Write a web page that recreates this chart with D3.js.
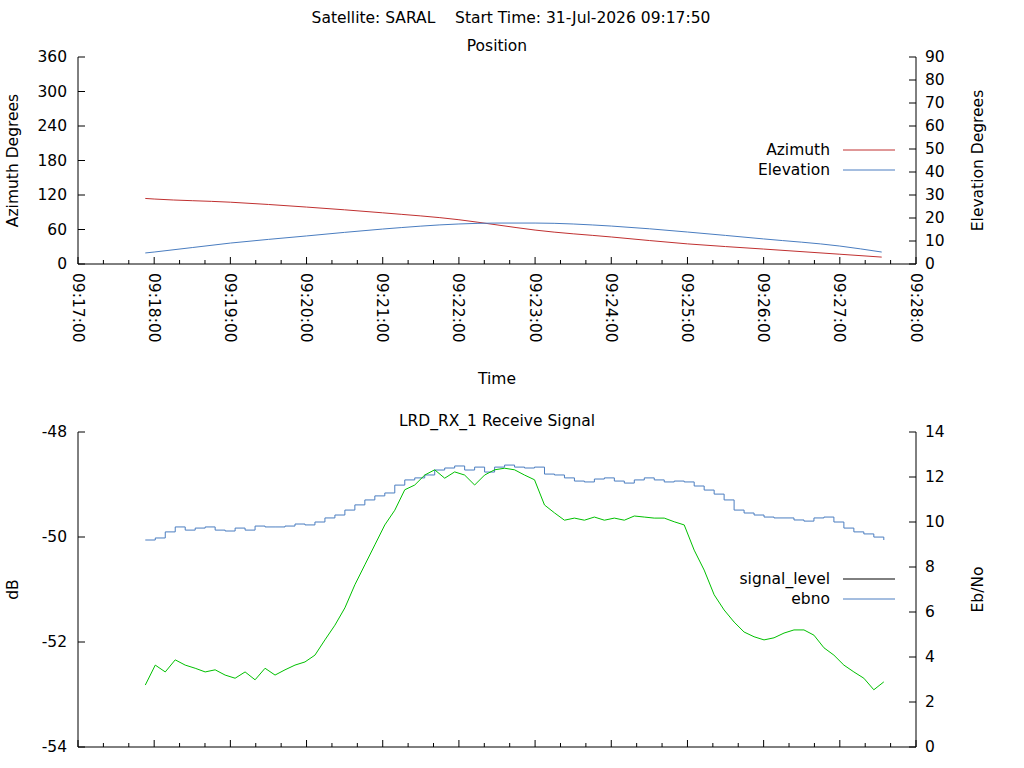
<!DOCTYPE html>
<html><head><meta charset="utf-8">
<script src="https://cdn.jsdelivr.net/npm/d3@7"></script>
<style>body{margin:0;background:#fff}text{font-family:"DejaVu Sans",sans-serif;fill:#000}</style>
</head><body><div id="chart"></div>
<script>
// position samples (HH:MM:SS, degrees)
const posTimes = ["09:17:53","09:18:00","09:19:00","09:20:00","09:21:00","09:22:00","09:22:30","09:23:00","09:24:00","09:25:00","09:26:00","09:27:00","09:27:33"];
const azimuth = [114,113,107.5,99,89,77,68,59,47,35,26,17,12];
const elevation = [4.8,5.2,9.1,12.2,15.2,17.4,17.8,17.8,16.5,13.9,10.9,7.8,5.2];

// receive signal, sampled every ~7.86 s from 09:17:53
const sigStart = "09:17:53";
const sigStep = 7.86;
const signalLevel = [-52.82,-52.44,-52.57,-52.34,-52.44,-52.50,-52.57,-52.53,-52.63,-52.69,-52.57,-52.72,-52.50,-52.63,-52.53,-52.44,-52.38,-52.25,-51.96,-51.68,-51.35,-50.91,-50.53,-50.15,-49.77,-49.49,-49.10,-49.01,-48.82,-48.72,-48.88,-48.76,-48.82,-49.01,-48.82,-48.72,-48.69,-48.72,-48.82,-48.91,-49.39,-49.54,-49.68,-49.64,-49.68,-49.62,-49.68,-49.64,-49.68,-49.60,-49.62,-49.64,-49.64,-49.71,-49.77,-50.25,-50.63,-51.10,-51.39,-51.62,-51.81,-51.90,-51.96,-51.92,-51.83,-51.77,-51.77,-51.87,-52.11,-52.25,-52.44,-52.57,-52.69,-52.91,-52.76];
const ebno = [9.20,9.29,9.56,9.78,9.64,9.73,9.78,9.64,9.60,9.73,9.64,9.82,9.78,9.78,9.82,9.91,9.87,10.0,10.18,10.31,10.53,10.76,10.98,11.16,11.29,11.64,11.87,11.96,12.09,12.31,12.40,12.49,12.31,12.44,12.22,12.44,12.53,12.44,12.40,12.44,12.13,12.09,11.96,11.82,11.78,11.91,11.96,11.82,11.73,11.87,11.96,11.87,11.78,11.82,11.78,11.60,11.42,11.24,10.98,10.53,10.40,10.31,10.22,10.18,10.18,10.09,10.04,10.18,10.22,10.0,9.73,9.56,9.47,9.33,9.20];

const xTicks = ["09:17:00","09:18:00","09:19:00","09:20:00","09:21:00","09:22:00","09:23:00","09:24:00","09:25:00","09:26:00","09:27:00","09:28:00"];

const W = 1024, H = 768;
const parse = d3.timeParse("%H:%M:%S");
const svg = d3.select("#chart").append("svg").attr("width", W).attr("height", H);
const L = 78, R = 916;
const x = d3.scaleTime().domain([parse("09:17:00"), parse("09:28:00")]).range([L, R]);
const fs = "15.5px";

svg.append("text").attr("x", 511).attr("y", 23).attr("text-anchor", "middle").style("font-size", fs)
  .attr("xml:space", "preserve").text("Satellite: SARAL    Start Time: 31-Jul-2026 09:17:50");

function frame(top, bottom, title) {
  const g = svg.append("g");
  g.append("path").attr("d", `M${L},${top}V${bottom}H${R}V${top}`).attr("fill", "none").attr("stroke", "#000");
  svg.append("text").attr("x", (L + R) / 2).attr("y", top - 6).attr("text-anchor", "middle").style("font-size", fs).text(title);
  // x ticks: major each minute, minor each 20 s
  const minor = d3.timeSecond.every(20).range(x.domain()[0], d3.timeSecond.offset(x.domain()[1], 1));
  g.selectAll(null).data(minor).join("line")
    .attr("x1", d => x(d)).attr("x2", d => x(d))
    .attr("y1", bottom).attr("y2", d => bottom - (d.getSeconds() === 0 ? 7 : 4))
    .attr("stroke", "#000");
  return g;
}

function yAxis(g, scale, ticks, side, fmt) {
  const xp = side === "left" ? L : R;
  const dir = side === "left" ? 1 : -1;
  ticks.forEach(t => {
    g.append("line").attr("x1", xp).attr("x2", xp + dir * 7).attr("y1", scale(t)).attr("y2", scale(t)).attr("stroke", "#000");
    g.append("text").attr("x", side === "left" ? xp - 11 : xp + 9).attr("y", scale(t)).attr("dy", "0.35em")
      .attr("text-anchor", side === "left" ? "end" : "start").style("font-size", fs).text(fmt(t));
  });
}

function label(xp, yp, text, rot) {
  svg.append("text").attr("transform", `translate(${xp},${yp}) rotate(${rot})`).attr("text-anchor", "middle")
    .style("font-size", fs).text(text);
}

// ---------- Position ----------
const t1 = 57, b1 = 264;
const g1 = frame(t1, b1, "Position");
const yAz = d3.scaleLinear().domain([0, 360]).range([b1, t1]);
const yEl = d3.scaleLinear().domain([0, 90]).range([b1, t1]);
yAxis(g1, yAz, d3.range(0, 361, 60), "left", d => d);
yAxis(g1, yEl, d3.range(0, 91, 10), "right", d => d);
xTicks.forEach(s => {
  svg.append("text").attr("transform", `translate(${x(parse(s))},${b1 + 9}) rotate(90)`).attr("dy", "0.35em")
    .style("font-size", fs).text(s);
});
label(18, (t1 + b1) / 2, "Azimuth Degrees", -90);
label(983, (t1 + b1) / 2, "Elevation Degrees", -90);
label((L + R) / 2, 384, "Time", 0);

const azCol = "#c03030", elCol = "#4a7dc0";
const tpos = posTimes.map(parse);
svg.append("path").datum(azimuth).attr("fill", "none").attr("stroke", azCol)
  .attr("d", d3.line().x((d, i) => x(tpos[i])).y(d => yAz(d)).curve(d3.curveMonotoneX));
svg.append("path").datum(elevation).attr("fill", "none").attr("stroke", elCol)
  .attr("d", d3.line().x((d, i) => x(tpos[i])).y(d => yEl(d)).curve(d3.curveMonotoneX));

function legend(items, y0) {
  items.forEach((it, i) => {
    const yy = y0 + i * 20;
    svg.append("text").attr("x", 830).attr("y", yy).attr("dy", "0.35em").attr("text-anchor", "end").style("font-size", fs).text(it[0]);
    svg.append("line").attr("x1", 843).attr("x2", 895).attr("y1", yy).attr("y2", yy).attr("stroke", it[1]);
  });
}
legend([["Azimuth", azCol], ["Elevation", elCol]], 150);

// ---------- Receive Signal ----------
const t2 = 432, b2 = 747;
const g2 = frame(t2, b2, "LRD_RX_1 Receive Signal");
const yDb = d3.scaleLinear().domain([-54, -48]).range([b2, t2]);
const yEb = d3.scaleLinear().domain([0, 14]).range([b2, t2]);
yAxis(g2, yDb, [-54, -52, -50, -48], "left", d => d);
yAxis(g2, yEb, d3.range(0, 15, 2), "right", d => d);
label(18, (t2 + b2) / 2, "dB", -90);
label(983, (t2 + b2) / 2, "Eb/No", -90);

const s0 = parse(sigStart);
const tx = i => x(new Date(+s0 + i * sigStep * 1000));
svg.append("path").datum(ebno).attr("fill", "none").attr("stroke", elCol)
  .attr("d", d3.line().x((d, i) => tx(i)).y(d => yEb(d)).curve(d3.curveStepAfter));
svg.append("path").datum(signalLevel).attr("fill", "none").attr("stroke", "#00c000")
  .attr("d", d3.line().x((d, i) => tx(i)).y(d => yDb(d)));
legend([["signal_level", "#000"], ["ebno", elCol]], 579);
</script></body></html>
